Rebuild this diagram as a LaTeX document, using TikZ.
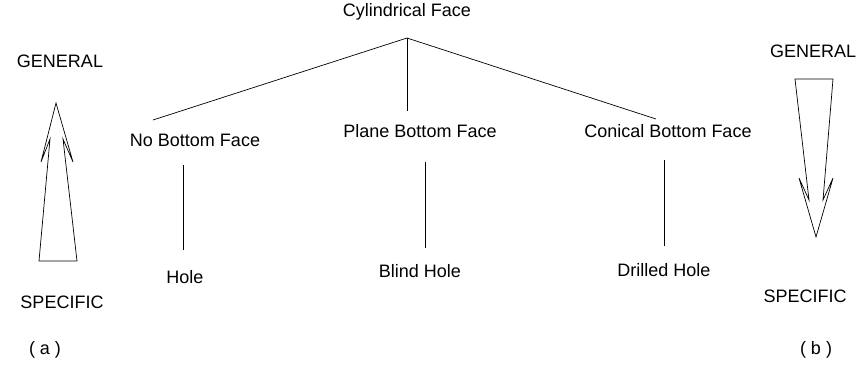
\documentclass[tikz,border=0pt]{standalone}
\usepackage{fontspec}
\setmainfont{Liberation Sans}
\begin{document}
\begin{tikzpicture}[x=1pt,y=-1pt,font=\fontsize{18}{21}\selectfont,line width=0.7pt]
\useasboundingbox (0,0) rectangle (858,370);
% tree
\node (cyl) at (407,12) {Cylindrical Face};
\node (nob) at (195,140) {No Bottom Face};
\node (pla) at (420,131) {Plane Bottom Face};
\node (con) at (668,131) {Conical Bottom Face};
\node (hole) at (185,277) {Hole};
\node (blind) at (420,271) {Blind Hole};
\node (drill) at (664,270) {Drilled Hole};
\coordinate (top) at (407,38);
\coordinate (a1) at (153,120); \coordinate (a2) at (407,111); \coordinate (a3) at (656,119);
\draw (top)--(a1); \draw (top)--(a2); \draw (top)--(a3);
\coordinate (b1) at (183,165); \coordinate (c1) at (183,250);
\coordinate (b2) at (425,162); \coordinate (c2) at (425,248);
\coordinate (b3) at (664,160); \coordinate (c3) at (664,246);
\draw (b1)--(c1); \draw (b2)--(c2); \draw (b3)--(c3);
% (a)
\node (genA) at (60,61) {GENERAL};
\node (specA) at (62,302) {SPECIFIC};
\node (labA) at (45,350) {( a )};
\draw (39,261)--(50,139)--(41,162)--(56,103)--(73,162)--(63,139)--(77,261)--cycle;
% (b)
\node (genB) at (813,51) {GENERAL};
\node (specB) at (805,296) {SPECIFIC};
\node (labB) at (816,350) {( b )};
\draw (795,79)--(809,200)--(799,178)--(816,237)--(833,178)--(823,200)--(833,79)--cycle;
\end{tikzpicture}
\end{document}
